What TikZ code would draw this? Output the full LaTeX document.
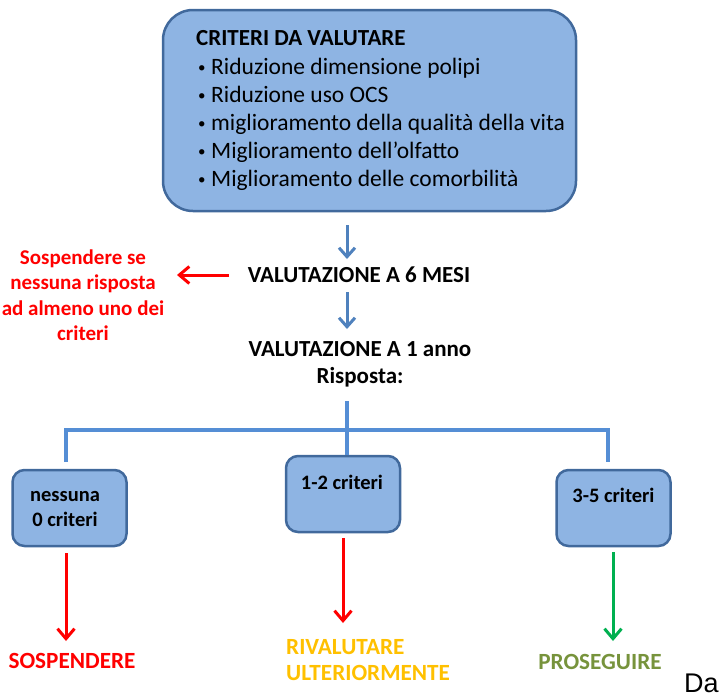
\documentclass[tikz,border=0pt]{standalone}
\usepackage{fontspec}
\setmainfont{Carlito}
\newfontfamily\arialfont{Liberation Sans}
\usetikzlibrary{arrows.meta}
\definecolor{boxfill}{HTML}{8EB4E3}
\definecolor{boxdraw}{HTML}{41699C}
\definecolor{treeblue}{HTML}{558ED5}
\definecolor{arrblue}{HTML}{4F81BD}
\definecolor{myred}{HTML}{FF0000}
\definecolor{myorange}{HTML}{FFC000}
\definecolor{mygreen}{HTML}{00B050}
\definecolor{myolive}{HTML}{77933C}
\newcommand{\bul}{\makebox[14pt][l]{\hspace{1pt}\raisebox{2pt}{\fontsize{15}{15}\selectfont\textbullet}}}
\tikzset{
  bigbox/.style={draw=boxdraw, line width=2.5pt, fill=boxfill, rounded corners=30pt, minimum width=413pt, minimum height=201pt, inner sep=0pt},
  smallbox/.style={draw=boxdraw, line width=2.5pt, fill=boxfill, rounded corners=12pt, minimum width=114pt, minimum height=76pt, inner sep=0pt},
  listtxt/.style={anchor=base west, inner sep=0pt, font=\fontsize{23.5}{28}\selectfont},
  headtxt/.style={anchor=center, inner sep=0pt, font=\fontsize{23}{27}\selectfont\bfseries, align=center},
  boxtxt/.style={anchor=center, inner sep=0pt, font=\fontsize{20.5}{25}\selectfont\bfseries, align=center},
  outtxt/.style={inner sep=0pt, font=\fontsize{23.2}{26}\selectfont\bfseries},
  barrow/.style={draw=arrblue, line width=3pt, -{Straight Barb[length=9pt,width=16pt,line width=3pt]}},
  colarrow/.style={line width=3pt, -{Straight Barb[length=10pt,width=17pt,line width=3pt]}},
  treeline/.style={draw=treeblue, line width=3.5pt}
}
\begin{document}
\begin{tikzpicture}[x=1pt,y=-1pt]
\useasboundingbox (0,0) rectangle (724,697);
% top box
\node[bigbox] (top) at (369.5,110.5) {};
\node[listtxt, font=\fontsize{23}{28}\selectfont\bfseries] (t0) at (196,45) {CRITERI DA VALUTARE};
\node[listtxt] (t1) at (197,74) {\bul Riduzione dimensione polipi};
\node[listtxt] (t2) at (197,102) {\bul Riduzione uso OCS};
\node[listtxt] (t3) at (197,130) {\bul miglioramento della qualità della vita};
\node[listtxt] (t4) at (197,158) {\bul Miglioramento dell’olfatto};
\node[listtxt] (t5) at (197,186) {\bul Miglioramento delle comorbilità};
% evaluations
\node[headtxt] (v6) at (359,275) {VALUTAZIONE A 6 MESI};
\node[headtxt] (v1) at (360,364) {VALUTAZIONE A 1 anno\\Risposta:};
\coordinate (a1s) at (347,225);
\coordinate (a1e) at (347,259);
\coordinate (a2s) at (347,292);
\coordinate (a2e) at (347,329);
\draw[barrow] (a1s) -- (a1e);
\draw[barrow] (a2s) -- (a2e);
% red side note
\node[inner sep=0pt, text=myred, align=center, font=\fontsize{21}{25.5}\selectfont\bfseries] (note) at (83,295) {Sospendere se\\nessuna risposta\\ad almeno uno dei\\criteri};
\coordinate (r1s) at (229,275);
\coordinate (r1e) at (177,275);
\draw[colarrow, draw=myred] (r1s) -- (r1e);
% boxes
\node[smallbox] (b1) at (69.5,508) {};
\node[smallbox] (b2) at (343,494) {};
\node[smallbox] (b3) at (613.5,508) {};
\node[boxtxt] (b1t) at (65,509) {nessuna\\0 criteri};
\node[boxtxt] (b2t) at (342,482) {1-2 criteri};
\node[boxtxt] (b3t) at (613.5,495) {3-5 criteri};
% tree
\coordinate (tl) at (66,430);
\coordinate (tr) at (608,430);
\coordinate (tl2) at (66,462);
\coordinate (tr2) at (608,462);
\coordinate (ts) at (347,401);
\draw[treeline] (ts) -- (b2.north -| ts);
\draw[treeline] (tl2) -- (tl) -- (tr) -- (tr2);
% bottom arrows
\coordinate (o1s) at (66,553);
\coordinate (o1e) at (66,641);
\coordinate (o2s) at (343,538);
\coordinate (o2e) at (343,623);
\coordinate (o3s) at (613,552);
\coordinate (o3e) at (613,641);
\draw[colarrow, draw=myred] (o1s) -- (o1e);
\draw[colarrow, draw=myred] (o2s) -- (o2e);
\draw[colarrow, draw=mygreen] (o3s) -- (o3e);
% outcomes
\node[outtxt, text=myred, anchor=center] (s1) at (72,661) {SOSPENDERE};
\node[outtxt, text=myorange, anchor=west, align=left] (s2) at (286,660) {RIVALUTARE\\ULTERIORMENTE};
\node[outtxt, text=myolive, anchor=center] (s3) at (600,662) {PROSEGUIRE};
\node[inner sep=0pt, anchor=west, font=\arialfont\fontsize{27}{30}\selectfont] (da) at (684,683) {Da};
\end{tikzpicture}
\end{document}
